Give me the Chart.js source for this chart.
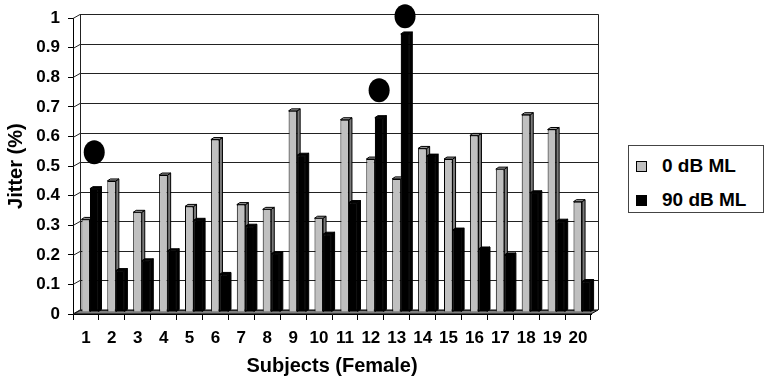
<!DOCTYPE html>
<html lang="en">
<head>
  <meta charset="UTF-8">
  <title>Jitter (%) - Subjects (Female)</title>
  <script src="https://cdn.jsdelivr.net/npm/chart.js"></script>
  <style>
    html, body { margin: 0; padding: 0; background: #fff; }
    #wrap { position: relative; width: 765px; height: 378px; }
    /* legend box, drawn as html next to the canvas */
    #legend {
      position: absolute; left: 628px; top: 145px; width: 134px; height: 66px;
      border: 1px solid #444; background: #fff;
      font: bold 19px 'Liberation Sans', Arial, sans-serif; color: #000;
    }
    .item { position: absolute; left: 7px; height: 20px; line-height: 20px; display: flex; align-items: center; }
    .sw { width: 9px; height: 9px; border: 1px solid #000; margin-right: 15px; }
  </style>
</head>
<body>
  <div id="wrap">
    <canvas id="jitterChart" width="765" height="378"></canvas>
    <div id="legend"></div>
  </div>

  <script>
    // data
    const subjects = ['1', '2', '3', '4', '5', '6', '7', '8', '9', '10',
                      '11', '12', '13', '14', '15', '16', '17', '18', '19', '20'];
    const seriesNames = ['0 dB ML', '90 dB ML'];
    const jitter0dB = [0.313, 0.443, 0.337, 0.463, 0.357, 0.583, 0.363, 0.347, 0.68, 0.317,
                       0.65, 0.517, 0.45, 0.553, 0.517, 0.597, 0.483, 0.667, 0.617, 0.373];
    const jitter90dB = [0.417, 0.14, 0.173, 0.207, 0.31, 0.127, 0.29, 0.197, 0.53, 0.263,
                        0.37, 0.657, 0.94, 0.527, 0.277, 0.213, 0.193, 0.403, 0.307, 0.103];
    // black dots over some subjects
    const markers = [0.54, null, null, null, null, null, null, null, null, null,
                     null, 0.75, 1.0, null, null, null, null, null, null, null];

    const fillColors = ['#c0c0c0', '#000000'];
    const sideColors = ['#7a7a7a', '#000000'];
    const topColors = ['#9c9c9c', '#000000'];
    const FONT = "'Liberation Sans', Arial, sans-serif";

    // legend
    const legend = document.getElementById('legend');
    seriesNames.forEach((name, i) => {
      const it = document.createElement('div');
      it.className = 'item';
      it.style.top = (10 + i * 34) + 'px';
      it.innerHTML = '<span class="sw" style="background:' + fillColors[i] + '"></span>' + name;
      legend.appendChild(it);
    });

    // fake excel 3d look: back wall, floor, bar sides
    const WALL_DX = 7, WALL_DY = -4;
    const BAR_DX = 4, BAR_DY = -2;

    function barFaces(ctx, el, side, top) {
      const p = el.getProps(['x', 'y', 'base', 'width'], true);
      const l = p.x - p.width / 2, r = p.x + p.width / 2, d = 3, e = -2;
      ctx.strokeStyle = '#000';
      ctx.lineWidth = 1;
      ctx.fillStyle = side;
      ctx.beginPath();
      ctx.moveTo(r, p.y); ctx.lineTo(r + d, p.y + e); ctx.lineTo(r + d, p.base + e); ctx.lineTo(r, p.base);
      ctx.closePath(); ctx.fill(); ctx.stroke();
      ctx.fillStyle = top;
      ctx.beginPath();
      ctx.moveTo(l, p.y); ctx.lineTo(l + d, p.y + e); ctx.lineTo(r + d, p.y + e); ctx.lineTo(r, p.y);
      ctx.closePath(); ctx.fill(); ctx.stroke();
    }

    const depth3d = {
      id: 'depth3d',
      beforeDatasetsDraw(chart) {
        const { ctx, chartArea: a, scales: { y } } = chart;
        ctx.save();
        ctx.lineWidth = 1;
        // floor
        ctx.fillStyle = '#808080';
        ctx.strokeStyle = '#000';
        ctx.beginPath();
        ctx.moveTo(a.left, a.bottom); ctx.lineTo(a.right, a.bottom);
        ctx.lineTo(a.right + WALL_DX, a.bottom + WALL_DY); ctx.lineTo(a.left + WALL_DX, a.bottom + WALL_DY);
        ctx.closePath(); ctx.fill(); ctx.stroke();
        // grid on back wall
        ctx.strokeStyle = '#222';
        y.ticks.forEach(t => {
          const py = Math.round(y.getPixelForValue(t.value)) + 0.5;
          ctx.beginPath();
          ctx.moveTo(a.left, py);
          ctx.lineTo(a.left + WALL_DX, py + WALL_DY);
          ctx.lineTo(a.right + WALL_DX, py + WALL_DY);
          ctx.stroke();
        });
        const lx = Math.round(a.left + WALL_DX) + 0.5, rx = Math.round(a.right + WALL_DX) + 0.5;
        ctx.beginPath();
        ctx.moveTo(lx, a.top + WALL_DY); ctx.lineTo(lx, a.bottom + WALL_DY);
        ctx.moveTo(rx, a.top + WALL_DY); ctx.lineTo(rx, a.bottom + WALL_DY);
        ctx.stroke();
        ctx.restore();
        // bars sit a bit deeper than the front axis
        ctx.save();
        ctx.translate(BAR_DX, BAR_DY);
      },
      afterDatasetsDraw(chart) {
        const { ctx, scales: { y } } = chart;
        const m0 = chart.getDatasetMeta(0), m1 = chart.getDatasetMeta(1);
        m0.data.forEach((el, i) => {
          barFaces(ctx, el, sideColors[0], topColors[0]);
          m1.data[i].draw(ctx);
          barFaces(ctx, m1.data[i], sideColors[1], topColors[1]);
        });
        ctx.fillStyle = '#000';
        markers.forEach((v, i) => {
          if (v == null) return;
          ctx.beginPath();
          ctx.ellipse(m1.data[i].x, y.getPixelForValue(v), 10.5, 12, 0, 0, Math.PI * 2);
          ctx.fill();
        });
        ctx.restore();
      }
    };

    new Chart(document.getElementById('jitterChart').getContext('2d'), {
      type: 'bar',
      data: {
        labels: subjects,
        datasets: [
          { label: seriesNames[0], data: jitter0dB, backgroundColor: fillColors[0], borderColor: '#000', borderWidth: 1 },
          { label: seriesNames[1], data: jitter90dB, backgroundColor: fillColors[1], borderColor: '#000', borderWidth: 1 }
        ]
      },
      options: {
        responsive: false,
        animation: false,
        categoryPercentage: 0.66,
        barPercentage: 1.0,
        layout: { padding: { left: 0, top: 14, right: 174, bottom: 0 } },
        plugins: { legend: { display: false }, tooltip: { enabled: false } },
        scales: {
          x: {
            afterFit: s => { s.height = 64; },
            grid: { offset: true, drawOnChartArea: false, drawTicks: true, tickLength: 6, color: '#000' },
            border: { display: true, color: '#000' },
            ticks: { color: '#000', padding: 8, font: { family: FONT, size: 17, weight: 'bold' } },
            title: {
              display: true, text: 'Subjects (Female)', color: '#000',
              padding: { top: 0, bottom: 0 },
              font: { family: FONT, size: 20, weight: 'bold' }
            }
          },
          y: {
            min: 0, max: 1,
            afterFit: s => { s.width = 73; },
            grid: { drawOnChartArea: false, drawTicks: true, tickLength: 5, color: '#000' },
            border: { display: true, color: '#000' },
            ticks: {
              stepSize: 0.1, color: '#000', padding: 8,
              format: { minimumFractionDigits: 0 },
              font: { family: FONT, size: 17, weight: 'bold' }
            },
            title: {
              display: true, text: 'Jitter (%)', color: '#000',
              padding: { top: 4, bottom: 0 },
              font: { family: FONT, size: 20, weight: 'bold' }
            }
          }
        }
      },
      plugins: [depth3d]
    });
  </script>
</body>
</html>
